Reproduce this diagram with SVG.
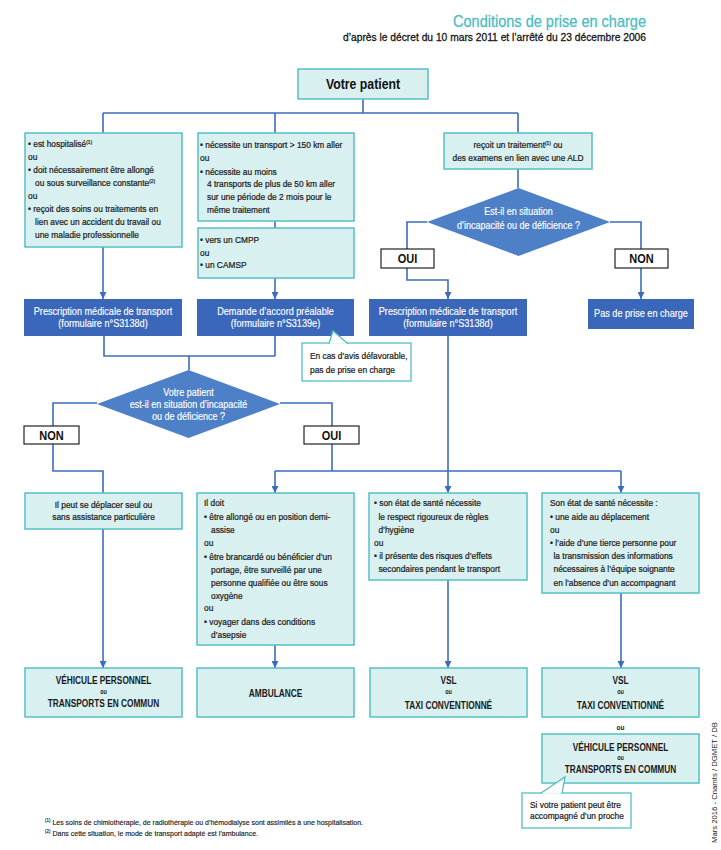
<svg xmlns="http://www.w3.org/2000/svg" width="721" height="850" viewBox="0 0 721 850">
<style>
text{font-family:"Liberation Sans",Arial,sans-serif}
.tb{fill:#d9f0f0;stroke:#55bfc5;stroke-width:1.5}
.db{fill:#3a67b9}
.dm{fill:#4e80c8}
.yn{fill:#fff;stroke:#222;stroke-width:1.2}
.cl{fill:#fff;stroke:#55bfc5;stroke-width:1.3}
.ln{fill:none;stroke:#3d6bbf;stroke-width:1.6}
.ar{marker-end:url(#ah)}
.t{font-size:9.5px;fill:#1e1e1e;stroke:#1e1e1e;stroke-width:0.25}
.w{font-size:10.5px;fill:#fff;stroke:#fff;stroke-width:0.15}
.wd{font-size:10px;fill:#fff;stroke:#fff;stroke-width:0.15}
.c{text-anchor:middle}
.cap{font-size:10px;font-weight:bold;fill:#1a1a1a}
.ou{font-size:6.5px;font-weight:bold;fill:#1a1a1a}
.yt{font-size:12.5px;font-weight:bold;fill:#111}
.sup{font-size:5.5px}
</style>
<defs>
<marker id="ah" viewBox="0 0 8 8" refX="8" refY="4" markerWidth="7" markerHeight="7" markerUnits="userSpaceOnUse" orient="auto">
<path d="M0,0 L8,4 L0,8 z" fill="#3d6bbf"/>
</marker>
</defs>
<rect width="721" height="850" fill="#fff"/>

<g id="title">
<text x="453" y="27" font-size="17" fill="#4dbdc4" stroke="#4dbdc4" stroke-width="0.3" textLength="193" lengthAdjust="spacingAndGlyphs">Conditions de prise en charge</text>
<text x="343" y="41" font-size="11" fill="#161616" stroke="#161616" stroke-width="0.3" textLength="303" lengthAdjust="spacingAndGlyphs">d’après le décret du 10 mars 2011 et l’arrêté du 23 décembre 2006</text>
</g>

<g id="connectors">
<path class="ln" d="M363,99 V113 M103,113 H518 M103,113 V133 M275,113 V133 M518,113 V133"/>
<path class="ln" d="M275,221 V228"/>
<path class="ln ar" d="M103,247 V299"/>
<path class="ln ar" d="M275,278 V299"/>
<path class="ln" d="M518,169 V188"/>
<path class="ln" d="M427,222 H407 V249"/>
<path class="ln ar" d="M407,268 V280 H448 V299"/>
<path class="ln" d="M610,222 H641 V249"/>
<path class="ln ar" d="M641,268 V299"/>
<path class="ln" d="M104,336 V356 H275 M275,336 V356 M189,356 V370"/>
<path class="ln" d="M97,403 H53 V426"/>
<path class="ln" d="M53,444 V471 H103 V493"/>
<path class="ln" d="M280,403 H332 V426"/>
<path class="ln" d="M332,444 V471 M275,471 H621"/>
<path class="ln ar" d="M275,471 V493"/>
<path class="ln ar" d="M621,471 V493"/>
<path class="ln ar" d="M448,336 V493"/>
<path class="ln ar" d="M103,529 V668"/>
<path class="ln ar" d="M275,645 V668"/>
<path class="ln ar" d="M448,580 V668"/>
<path class="ln ar" d="M621,593 V668"/>
</g>

<g id="votre-patient">
<rect class="tb" x="298" y="69" width="130" height="30"/>
<g transform="translate(363 0) scale(0.82 1)"><text class="c" x="0" y="89.5" font-size="15" font-weight="bold" fill="#111">Votre patient</text></g>
</g>

<g id="box-hospitalise">
<rect class="tb" x="25" y="133" width="157" height="114"/>
<g transform="translate(28 0) scale(0.88 1)">
<text class="t" x="0" y="147">• est hospitalisé<tspan class="sup" dy="-3">(1)</tspan></text>
<text class="t" x="0" y="160">ou</text>
<text class="t" x="0" y="173.5">• doit nécessairement être allongé</text>
<text class="t" x="8" y="186.5">ou sous surveillance constante<tspan class="sup" dy="-3">(2)</tspan></text>
<text class="t" x="0" y="199">ou</text>
<text class="t" x="0" y="212.5">• reçoit des soins ou traitements en</text>
<text class="t" x="8" y="225.5">lien avec un accident du travail ou</text>
<text class="t" x="8" y="238.5">une maladie professionnelle</text>
</g>
</g>

<g id="box-150km">
<rect class="tb" x="198" y="133" width="156" height="88"/>
<g transform="translate(200 0) scale(0.88 1)">
<text class="t" x="0" y="148.5">• nécessite un transport &gt; 150 km aller</text>
<text class="t" x="0" y="161">ou</text>
<text class="t" x="0" y="175">• nécessite au moins</text>
<text class="t" x="8" y="187.5">4 transports de plus de 50 km aller</text>
<text class="t" x="8" y="200.5">sur une période de 2 mois pour le</text>
<text class="t" x="8" y="213.5">même traitement</text>
</g>
</g>

<g id="box-cmpp">
<rect class="tb" x="198" y="228" width="156" height="50"/>
<g transform="translate(200 0) scale(0.88 1)">
<text class="t" x="0" y="243.5">• vers un CMPP</text>
<text class="t" x="0" y="256">ou</text>
<text class="t" x="0" y="268.5">• un CAMSP</text>
</g>
</g>

<g id="box-ald">
<rect class="tb" x="444" y="133" width="148" height="36"/>
<g transform="translate(518 0) scale(0.88 1)">
<text class="t c" x="0" y="148.5">reçoit un traitement<tspan class="sup" dy="-3">(1)</tspan><tspan dy="3"> ou</tspan></text>
<text class="t c" x="0" y="161.5">des examens en lien avec une ALD</text>
</g>
</g>

<g id="diamond-ald">
<polygon class="dm" points="518.5,188 610,222 518.5,256 427,222"/>
<g transform="translate(518.5 0) scale(0.9 1)">
<text class="wd c" x="0" y="215">Est-il en situation</text>
<text class="wd c" x="0" y="229">d’incapacité ou de déficience ?</text>
</g>
</g>

<g id="oui-ald">
<rect class="yn" x="381" y="249" width="53" height="19"/>
<g transform="translate(407.5 0) scale(0.88 1)"><text class="yt c" x="0" y="263">OUI</text></g>
</g>
<g id="non-ald">
<rect class="yn" x="615" y="249" width="53" height="19"/>
<g transform="translate(641.5 0) scale(0.88 1)"><text class="yt c" x="0" y="263">NON</text></g>
</g>

<g id="presc-1">
<rect class="db" x="24" y="299" width="158" height="37"/>
<g transform="translate(103 0) scale(0.87 1)">
<text class="w c" x="0" y="315.5">Prescription médicale de transport</text>
<text class="w c" x="0" y="327.5">(formulaire n°S3138d)</text>
</g>
</g>
<g id="accord-prealable">
<rect class="db" x="197" y="299" width="157" height="37"/>
<g transform="translate(275.5 0) scale(0.87 1)">
<text class="w c" x="0" y="315.5">Demande d’accord préalable</text>
<text class="w c" x="0" y="327.5">(formulaire n°S3139e)</text>
</g>
</g>
<g id="presc-3">
<rect class="db" x="369" y="299" width="158" height="37"/>
<g transform="translate(448 0) scale(0.87 1)">
<text class="w c" x="0" y="315.5">Prescription médicale de transport</text>
<text class="w c" x="0" y="327.5">(formulaire n°S3138d)</text>
</g>
</g>
<g id="pas-prise">
<rect class="db" x="588" y="299" width="106" height="30"/>
<g transform="translate(641 0) scale(0.87 1)">
<text class="w c" x="0" y="317.5">Pas de prise en charge</text>
</g>
</g>

<g id="callout-avis">
<rect class="cl" x="302" y="343" width="109" height="38"/>
<path d="M329,343.7 L333,331 L348,343.7" fill="#fff" stroke="#55bfc5" stroke-width="1.3"/>
<g transform="translate(310 0) scale(0.88 1)">
<text class="t" x="0" y="359.5" font-size="9">En cas d’avis défavorable,</text>
<text class="t" x="0" y="373" font-size="9">pas de prise en charge</text>
</g>
</g>

<g id="diamond-patient">
<polygon class="dm" points="188.5,370 280,404 188.5,438 97,404"/>
<g transform="translate(188.5 0) scale(0.9 1)">
<text class="wd c" x="0" y="396.5">Votre patient</text>
<text class="wd c" x="0" y="408.5">est-il en situation d’incapacité</text>
<text class="wd c" x="0" y="420.5">ou de déficience ?</text>
</g>
</g>

<g id="non-patient">
<rect class="yn" x="24" y="426" width="55" height="18"/>
<g transform="translate(51.5 0) scale(0.88 1)"><text class="yt c" x="0" y="439.8">NON</text></g>
</g>
<g id="oui-patient">
<rect class="yn" x="304" y="426" width="55" height="18"/>
<g transform="translate(331.5 0) scale(0.88 1)"><text class="yt c" x="0" y="439.8">OUI</text></g>
</g>

<g id="box-seul">
<rect class="tb" x="25" y="493" width="157" height="36"/>
<g transform="translate(103.5 0) scale(0.88 1)">
<text class="t c" x="0" y="508.5">Il peut se déplacer seul ou</text>
<text class="t c" x="0" y="520.5">sans assistance particulière</text>
</g>
</g>

<g id="box-il-doit">
<rect class="tb" x="197" y="493" width="157" height="152"/>
<g transform="translate(204 0) scale(0.88 1)">
<text class="t" x="0" y="506.5">Il doit</text>
<text class="t" x="0" y="520">• être allongé ou en position demi-</text>
<text class="t" x="8" y="533">assise</text>
<text class="t" x="0" y="546">ou</text>
<text class="t" x="0" y="560">• être brancardé ou bénéficier d’un</text>
<text class="t" x="8" y="573">portage, être surveillé par une</text>
<text class="t" x="8" y="586">personne qualifiée ou être sous</text>
<text class="t" x="8" y="599">oxygène</text>
<text class="t" x="0" y="611.5">ou</text>
<text class="t" x="0" y="625">• voyager dans des conditions</text>
<text class="t" x="8" y="638">d’asepsie</text>
</g>
</g>

<g id="box-hygiene">
<rect class="tb" x="369" y="493" width="158" height="87"/>
<g transform="translate(374 0) scale(0.88 1)">
<text class="t" x="0" y="506.5">• son état de santé nécessite</text>
<text class="t" x="5" y="520">le respect rigoureux de règles</text>
<text class="t" x="5" y="533">d’hygiène</text>
<text class="t" x="0" y="546">ou</text>
<text class="t" x="0" y="559.5">• il présente des risques d’effets</text>
<text class="t" x="5" y="572">secondaires pendant le transport</text>
</g>
</g>

<g id="box-aide">
<rect class="tb" x="542" y="493" width="157" height="100"/>
<g transform="translate(550 0) scale(0.88 1)">
<text class="t" x="0" y="506.5">Son état de santé nécessite :</text>
<text class="t" x="0" y="520">• une aide au déplacement</text>
<text class="t" x="0" y="533">ou</text>
<text class="t" x="0" y="546.5">• l’aide d’une tierce personne pour</text>
<text class="t" x="4" y="559.5">la transmission des informations</text>
<text class="t" x="4" y="572.5">nécessaires à l’équipe soignante</text>
<text class="t" x="4" y="586">en l’absence d’un accompagnant</text>
</g>
</g>

<g id="res-vehicule">
<rect class="tb" x="25" y="668" width="157" height="49"/>
<g transform="translate(103.5 0) scale(0.83 1)">
<text class="cap c" x="0" y="683.6">VÉHICULE PERSONNEL</text>
<text class="ou c" x="0" y="694.5">ou</text>
<text class="cap c" x="0" y="706.6">TRANSPORTS EN COMMUN</text>
</g>
</g>
<g id="res-ambulance">
<rect class="tb" x="197" y="668" width="157" height="49"/>
<g transform="translate(275.5 0) scale(0.83 1)">
<text class="cap c" x="0" y="696.6">AMBULANCE</text>
</g>
</g>
<g id="res-vsl-1">
<rect class="tb" x="370" y="668" width="157" height="49"/>
<g transform="translate(448.5 0) scale(0.83 1)">
<text class="cap c" x="0" y="683.6">VSL</text>
<text class="ou c" x="0" y="694.5">ou</text>
<text class="cap c" x="0" y="708.6">TAXI CONVENTIONNÉ</text>
</g>
</g>
<g id="res-vsl-2">
<rect class="tb" x="542" y="668" width="157" height="49"/>
<g transform="translate(620.5 0) scale(0.83 1)">
<text class="cap c" x="0" y="683.6">VSL</text>
<text class="ou c" x="0" y="694.5">ou</text>
<text class="cap c" x="0" y="708.6">TAXI CONVENTIONNÉ</text>
</g>
</g>
<g id="ou-between">
<text class="ou c" x="620.5" y="729.5" font-size="7">ou</text>
</g>
<g id="res-vehicule-2">
<rect class="tb" x="542" y="734" width="157" height="49"/>
<g transform="translate(620.5 0) scale(0.83 1)">
<text class="cap c" x="0" y="750.6">VÉHICULE PERSONNEL</text>
<text class="ou c" x="0" y="760.5">ou</text>
<text class="cap c" x="0" y="772.6">TRANSPORTS EN COMMUN</text>
</g>
</g>

<g id="callout-proche">
<rect class="cl" x="522" y="793" width="109" height="35"/>
<path d="M540,793.7 L565,777 L562,793.7" fill="#fff" stroke="#55bfc5" stroke-width="1.3"/>
<g transform="translate(530 0) scale(0.88 1)">
<text class="t" x="0" y="808" font-size="9">Si votre patient peut être</text>
<text class="t" x="0" y="819.5" font-size="9">accompagné d’un proche</text>
</g>
</g>

<g id="footnotes">
<text x="45" y="824.5" font-size="7" fill="#222" stroke="#222" stroke-width="0.15" textLength="318" lengthAdjust="spacingAndGlyphs"><tspan font-size="4.5" dy="-2.5">(1)</tspan><tspan dy="2.5"> Les soins de chimiothérapie, de radiothérapie ou d’hémodialyse sont assimilés à une hospitalisation.</tspan></text>
<text x="45" y="835.5" font-size="7" fill="#222" stroke="#222" stroke-width="0.15" textLength="213" lengthAdjust="spacingAndGlyphs"><tspan font-size="4.5" dy="-2.5">(2)</tspan><tspan dy="2.5"> Dans cette situation, le mode de transport adapté est l’ambulance.</tspan></text>
</g>

<g id="credits">
<text transform="translate(717 843) rotate(-90)" x="0" y="0" font-size="7" fill="#222" textLength="121" lengthAdjust="spacingAndGlyphs">Mars 2016 - Cnamts / DGMET / DB</text>
</g>
</svg>
